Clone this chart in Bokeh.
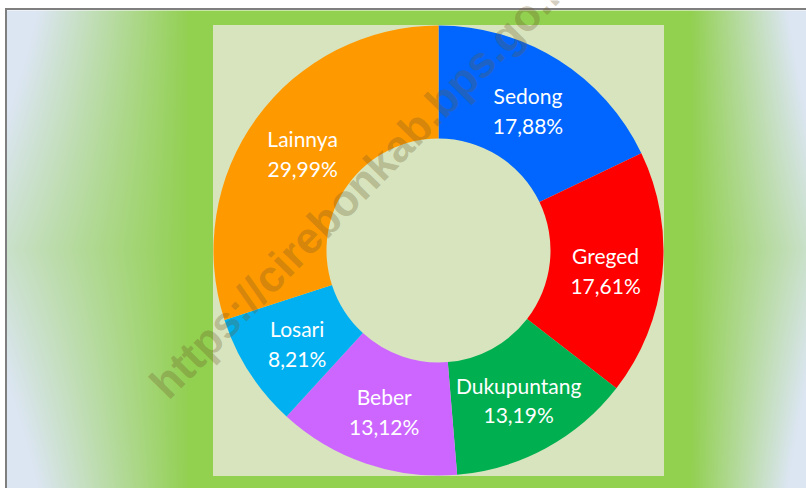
import numpy as np
from math import pi
from bokeh.plotting import figure
from bokeh.models import Range1d, ColumnDataSource
from bokeh.core.properties import value
from bokeh.embed import file_html
from bokeh.resources import INLINE

# ---- data ----
categories = ["Sedong", "Greged", "Dukupuntang", "Beber", "Losari", "Lainnya"]
shares = [17.88, 17.61, 13.19, 13.12, 8.21, 29.99]
colors = ["#0066FF", "#FF0000", "#00B050", "#CC66FF", "#00B0F0", "#FF9900"]
labels = ["17,88%", "17,61%", "13,19%", "13,12%", "8,21%", "29,99%"]
watermark = "https://cirebonkab.bps.go.id"

W, H = 806, 488
CX, CY = 438, 238          # donut centre (data units = pixels)
R_OUT, R_IN, R_LAB = 225, 112, 168

p = figure(width=W, height=H, x_range=Range1d(0, W), y_range=Range1d(0, H),
           output_backend="svg", toolbar_location=None, min_border=0)
p.axis.visible = False
p.grid.visible = False
p.outline_line_color = None
p.background_fill_color = "white"
p.border_fill_color = "white"

# ---- gradient background ----
GX0, GH = 6, 478
GW = W - GX0
cols = np.arange(GW) + 0.5
rows = np.arange(GH) + 0.5
X = GX0 + cols[None, :]
Y = H - rows[:, None]
h = np.where(X < 190, (190 - X) / 182.0, np.where(X > 690, (X - 690) / 116.0, 0.0))
v = np.abs(Y - 249) / 239.0
t = np.clip(h * (0.75 + 0.45 * v), 0, 1)
green = np.array([146, 208, 80], dtype=float)
edge = np.array([220, 230, 242], dtype=float)
rgb = green[None, None, :] * (1 - t[..., None]) + edge[None, None, :] * t[..., None]
img = np.empty((GH, GW), dtype=np.uint32)
view = img.view(dtype=np.uint8).reshape((GH, GW, 4))
view[:, :, 0:3] = rgb.astype(np.uint8)
view[:, :, 3] = 255
p.image_rgba(image=[img], x=GX0, y=0, dw=GW, dh=GH)

# frame lines (top and left)
p.segment(x0=[4.5], y0=[479.5], x1=[W], y1=[479.5], line_color="#7F7F7F", line_width=2)
p.segment(x0=[5.5], y0=[0], x1=[5.5], y1=[480.5], line_color="#7F7F7F", line_width=2)

# ---- light panel ----
p.quad(left=[CX - R_OUT - 0.5], right=[CX + R_OUT + 0.5],
       bottom=[CY - R_OUT - 0.5], top=[CY + R_OUT + 0.5],
       fill_color="#D7E4BD", line_color=None)

# ---- donut ----
frac = np.array(shares) / sum(shares)
cum = np.concatenate([[0], np.cumsum(frac)])
start = pi / 2 - 2 * pi * cum[:-1]
end = pi / 2 - 2 * pi * cum[1:]
mid = (start + end) / 2
src = ColumnDataSource(dict(
    start=start, end=end, color=colors,
    lx=CX + R_LAB * np.cos(mid), ly=CY + R_LAB * np.sin(mid) - 2,
    txt=[f"{c}\n{l}" for c, l in zip(categories, labels)],
))
p.annular_wedge(x=CX, y=CY, inner_radius=R_IN, outer_radius=R_OUT,
                start_angle="start", end_angle="end", direction="clock",
                fill_color="color", line_color=None, source=src)

p.text(x="lx", y="ly", text="txt", source=src, text_align="center",
       text_baseline="middle", text_font=value("Lato"), text_font_size="21px",
       text_color="white", text_line_height=1.18)

# ---- watermark ----
p.text(x=[157], y=[98], text=[watermark], angle=pi / 4 + 0.01,
       text_font=value("Liberation Sans"), text_font_style="bold",
       text_font_size="44px", text_color="#6E5A2A", text_alpha=0.3,
       text_align="left", text_baseline="alphabetic")

open("out.html", "w").write(file_html(p, INLINE))
